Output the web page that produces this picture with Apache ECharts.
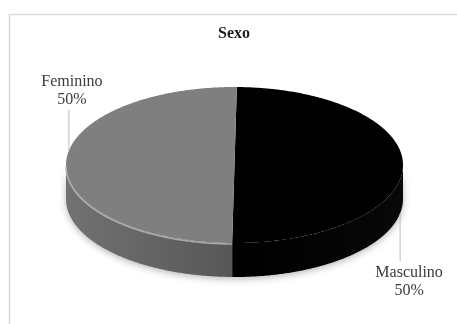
<!DOCTYPE html>
<html><head><meta charset="utf-8">
<script src="https://cdn.jsdelivr.net/npm/echarts@6/dist/echarts.min.js"></script>
<style>html,body{margin:0;padding:0;background:#fff}#c{width:457px;height:324px}</style>
</head><body><div id="c"></div>
<script>
const title = 'Sexo';
const categories = ['Masculino', 'Feminino'];
const values = [50, 50];

const topColors = ['#000000', '#7f7f7f'];
const sideColors = [['#080808', '#000000'], ['#727272', '#575757']];
const rimColors = [null, 'rgba(185,185,185,0.85)'];

const CX = 234.5, CY = 165, RX = 168.5, RY = 78, DEPTH = 34;
const START = -89.2 * Math.PI / 180;
const LABEL_OFF = 0.172;
const labelLayout = { up: { len: 41, dx: 3 }, down: { len: 48, dx: 9 } };
const FONT = '16px "Liberation Serif", "Times New Roman", serif';

const total = values.reduce((a, b) => a + b, 0);
const starts = []; let acc = 0; values.forEach(v => { starts.push(acc); acc += v; });

function pt(t, dy) { return [CX + RX * Math.cos(t), CY + RY * Math.sin(t) + (dy || 0)]; }
function arc(a0, a1, dy) {
  const n = Math.max(2, Math.ceil(Math.abs(a1 - a0) / (Math.PI / 360)));
  const pts = [];
  for (let i = 0; i <= n; i++) pts.push(pt(a0 + (a1 - a0) * i / n, dy));
  return pts;
}

function renderItem(params, api) {
  const i = params.dataIndex;
  const v = api.value(0);
  const a0 = START + starts[i] / total * 2 * Math.PI;
  const a1 = a0 + v / total * 2 * Math.PI;
  const children = [];
  // visible side (front half)
  for (let k = -1; k <= 1; k++) {
    const lo = Math.max(a0, 2 * Math.PI * k), hi = Math.min(a1, 2 * Math.PI * k + Math.PI);
    if (hi > lo) {
      const poly = arc(lo, hi, 0).concat(arc(hi, lo, DEPTH));
      const xs = poly.map(p => p[0]);
      const xmin = Math.min(...xs), xmax = Math.max(...xs);
      children.push({
        type: 'polygon', shape: { points: poly },
        style: {
          fill: new echarts.graphic.LinearGradient(0, 0, 1, 0, [
            { offset: 0, color: i === 1 ? sideColors[i][0] : sideColors[i][1] },
            { offset: 1, color: i === 1 ? sideColors[i][1] : sideColors[i][0] }
          ]),
          shadowBlur: 7, shadowColor: 'rgba(0,0,0,0.28)', shadowOffsetY: 2
        }
      });
      if (rimColors[i]) {
        children.push({
          type: 'polyline', shape: { points: arc(lo, hi, 1) }, z2: 5,
          style: { stroke: rimColors[i], lineWidth: 1.6, fill: null }
        });
      }
    }
  }
  // top face
  const topPoly = [[CX, CY]].concat(arc(a0, a1, 0));
  children.push({ type: 'polygon', shape: { points: topPoly }, z2: 3, style: { fill: topColors[i] } });

  // label + leader line
  const am = (a0 + a1) / 2 + LABEL_OFF;
  const p = pt(am);
  const front = Math.sin(am) > 0;
  const lay = front ? labelLayout.down : labelLayout.up;
  const y0 = front ? p[1] + DEPTH : p[1];
  const y1 = front ? y0 + lay.len : y0 - lay.len;
  children.push({ type: 'line', shape: { x1: p[0], y1: y0, x2: p[0], y2: y1 }, z2: 6,
    style: { stroke: '#bdbdbd', lineWidth: 1 } });
  const pct = Math.round(v / total * 100) + '%';
  children.push({ type: 'text', z2: 6, x: p[0] + lay.dx, y: front ? y1 + 2 : y1 - 1,
    style: { text: categories[i] + '\n' + pct, font: FONT, fill: '#3a3a3a', align: 'center',
      verticalAlign: front ? 'top' : 'bottom', lineHeight: 18 } });
  return { type: 'group', children };
}

const chart = echarts.init(document.getElementById('c'), null, { renderer: 'canvas' });
chart.setOption({
  animation: false,
  backgroundColor: '#ffffff',
  title: { text: title, left: 218, top: 26, padding: 0,
    textStyle: { fontFamily: '"Liberation Serif", "Times New Roman", serif', fontWeight: 'bold', fontSize: 16, color: '#1e1e1e' } },
  graphic: [{ type: 'rect', shape: { x: 9.5, y: 14.5, width: 470, height: 330 }, silent: true,
    style: { fill: null, stroke: '#dcdcdc', lineWidth: 1.5 } }],
  series: [{ type: 'custom', coordinateSystem: 'none', silent: true, renderItem, data: values }]
});
</script></body></html>
